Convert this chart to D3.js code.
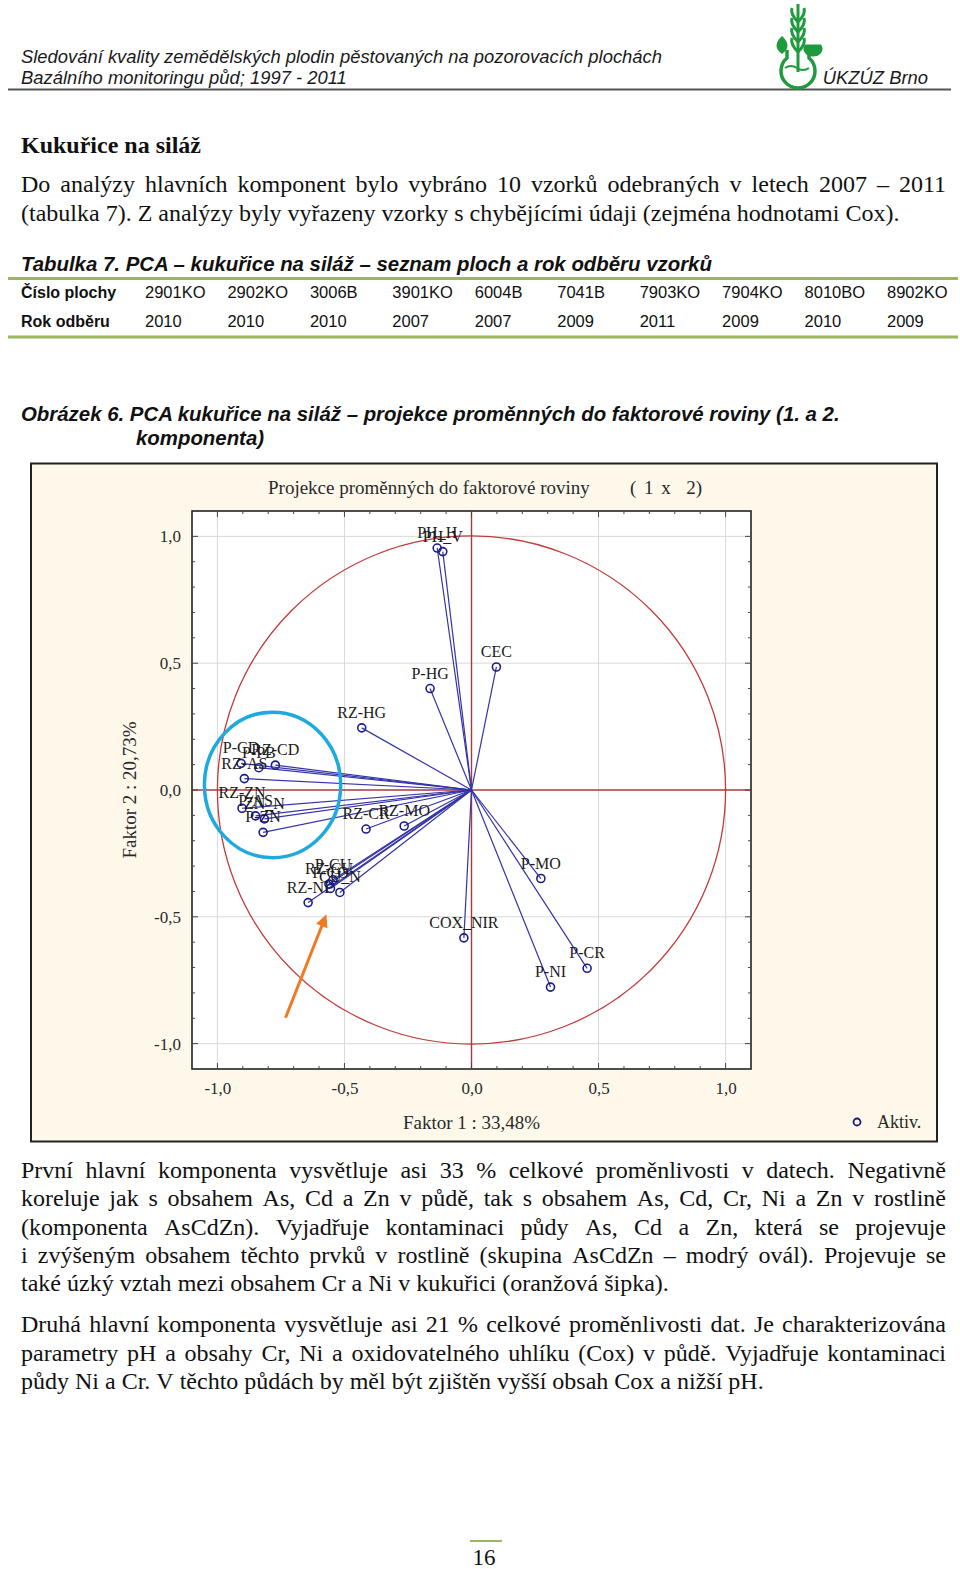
<!DOCTYPE html>
<html>
<head>
<meta charset="utf-8">
<script src="https://cdn.jsdelivr.net/npm/d3@7"></script>
<style>
  body { margin: 0; background: #fff; }
  svg { display: block; }
</style>
</head>
<body>
<div id="page"></div>
<script>
// ---- table data ----
const plochy = ["2901KO", "2902KO", "3006B", "3901KO", "6004B", "7041B", "7903KO", "7904KO", "8010BO", "8902KO"];
const rokOdberu = ["2010", "2010", "2010", "2007", "2007", "2009", "2011", "2009", "2010", "2009"];

// ---- PCA loadings (factor 1 x factor 2) ----
const varNames = ["PH_H", "PH_V", "CEC", "P-HG", "RZ-HG",
  "P-CD", "P-PB", "RZ-CD", "RZ-AS", "RZ-ZN", "P-AS", "ZN_N", "P-ZN",
  "RZ-CR", "RZ-MO", "P-CU", "RZ-CU", "P-CO", "CU_N", "RZ-NI",
  "P-MO", "COX_NIR", "P-CR", "P-NI"];
const factor1 = [-0.135, -0.113, 0.098, -0.163, -0.432,
  -0.907, -0.837, -0.772, -0.894, -0.903, -0.850, -0.815, -0.820,
  -0.415, -0.265, -0.545, -0.561, -0.555, -0.518, -0.643,
  0.273, -0.030, 0.455, 0.311];
const factor2 = [0.954, 0.940, 0.485, 0.400, 0.245,
  0.105, 0.088, 0.098, 0.045, -0.072, -0.102, -0.114, -0.167,
  -0.154, -0.142, -0.354, -0.371, -0.388, -0.404, -0.444,
  -0.349, -0.583, -0.703, -0.777];

const tickValues = [-1, -0.5, 0, 0.5, 1];
const minorTicks = d3.range(-10, 11).map(d => d / 10);

// annotations in factor units
const ovalCenter = [-0.783, 0.02], ovalRadius = [0.268, 0.287];
const arrowFrom = [-0.732, -0.898], arrowTo = [-0.571, -0.49];

const serif = "'Liberation Serif', 'Times New Roman', serif";
const sans = "'Liberation Sans', Arial, sans-serif";

const svg = d3.select("#page").append("svg")
  .attr("width", 960).attr("height", 1569);

// justify words of one line between x0 and x1
function line(text, x0, x1, y, last) {
  const g = svg.append("g").attr("font-family", serif).attr("font-size", 24).attr("fill", "#111");
  const words = text.split(" ");
  const nodes = words.map(w => g.append("text").attr("y", y).text(w));
  const widths = nodes.map(n => n.node().getComputedTextLength());
  const total = d3.sum(widths);
  const gap = last ? 6 : (x1 - x0 - total) / (words.length - 1);
  let x = x0;
  nodes.forEach((n, i) => { n.attr("x", x); x += widths[i] + gap; });
}

// ---- header ----
const head = svg.append("g").attr("font-family", sans).attr("font-style", "italic")
  .attr("font-size", 18.4).attr("fill", "#1a1a1a");
head.append("text").attr("x", 21).attr("y", 63)
  .text("Sledování kvality zemědělských plodin pěstovaných na pozorovacích plochách");
head.append("text").attr("x", 21).attr("y", 84).text("Bazálního monitoringu půd; 1997 - 2011");
head.append("text").attr("x", 928).attr("y", 84).attr("text-anchor", "end").text("ÚKZÚZ Brno");
svg.append("line").attr("x1", 8).attr("x2", 951).attr("y1", 89.5).attr("y2", 89.5)
  .attr("stroke", "#555").attr("stroke-width", 2);

// logo (rough)
const logo = svg.append("g").attr("fill", "none").attr("stroke", "#1f9a3c").attr("stroke-width", 3);
logo.append("path").attr("d", "M798,4 L798,72");
[14, 24, 34, 44].forEach(t => {
  logo.append("path").attr("d", `M798,${t + 8} Q790,${t} 792,${t - 6}`);
  logo.append("path").attr("d", `M798,${t + 8} Q806,${t} 804,${t - 6}`);
});
logo.append("path").attr("d", "M787,50 L787,58 A17,17 0 1,0 809,58 L809,50").attr("stroke-width", 3.5);
logo.append("path").attr("d", "M782,38 q-8,8 0,14 q8,-6 0,-14z").attr("fill", "#1f9a3c");
logo.append("path").attr("d", "M806,46 a8,6 0 1,0 14,0 z").attr("fill", "#1f9a3c");
logo.append("path").attr("d", "M785,68 q6,-4 12,0 q6,4 12,0").attr("stroke-width", 2);

// ---- section heading and intro ----
svg.append("text").attr("x", 21).attr("y", 153).attr("font-family", serif)
  .attr("font-weight", "bold").attr("font-size", 24).attr("fill", "#111").text("Kukuřice na siláž");
line("Do analýzy hlavních komponent bylo vybráno 10 vzorků odebraných v letech 2007 – 2011", 21, 946, 192, false);
line("(tabulka 7). Z analýzy byly vyřazeny vzorky s chybějícími údaji (zejména hodnotami Cox).", 21, 946, 221, true);

// ---- table ----
svg.append("text").attr("x", 21).attr("y", 271).attr("font-family", sans).attr("font-weight", "bold")
  .attr("font-style", "italic").attr("font-size", 20.4).attr("fill", "#111")
  .text("Tabulka 7. PCA – kukuřice na siláž – seznam ploch a rok odběru vzorků");
[278.5, 337].forEach(y => svg.append("line").attr("x1", 8).attr("x2", 958).attr("y1", y).attr("y2", y)
  .attr("stroke", "#9bb661").attr("stroke-width", 3));
const colX = d3.scalePoint().domain(plochy.map((d, i) => i)).range([145, 887]);
const tbl = svg.append("g").attr("font-family", sans).attr("font-size", 16.5).attr("fill", "#111");
tbl.append("text").attr("x", 21).attr("y", 298).attr("font-weight", "bold").attr("font-size", 16).text("Číslo plochy");
tbl.append("text").attr("x", 21).attr("y", 327).attr("font-weight", "bold").attr("font-size", 16).text("Rok odběru");
tbl.selectAll(".p").data(plochy).join("text").attr("x", (d, i) => colX(i)).attr("y", 298).text(d => d);
tbl.selectAll(".r").data(rokOdberu).join("text").attr("x", (d, i) => colX(i)).attr("y", 327).text(d => d);

// ---- figure caption ----
const cap = svg.append("g").attr("font-family", sans).attr("font-weight", "bold")
  .attr("font-style", "italic").attr("font-size", 20.4).attr("fill", "#111");
cap.append("text").attr("x", 21).attr("y", 421)
  .text("Obrázek 6. PCA kukuřice na siláž – projekce proměnných do faktorové roviny (1. a 2.");
cap.append("text").attr("x", 136).attr("y", 445).text("komponenta)");

// ---- chart ----
svg.append("rect").attr("x", 31).attr("y", 463.5).attr("width", 906).attr("height", 678)
  .attr("fill", "#fdf8ea").attr("stroke", "#222").attr("stroke-width", 2);

const x = d3.scaleLinear().domain([-1.1, 1.1]).range([192, 751]);
const y = d3.scaleLinear().domain([-1.1, 1.1]).range([1069, 511]);
const fmt = d => d3.format(".1f")(d).replace(".", ",").replace("−", "-");

const chart = svg.append("g");
chart.append("rect").attr("x", x(-1.1)).attr("y", y(1.1))
  .attr("width", x(1.1) - x(-1.1)).attr("height", y(-1.1) - y(1.1)).attr("fill", "#fff");

// grid
const grid = tickValues.filter(d => d !== 0);
chart.selectAll(".gx").data(grid).join("line")
  .attr("x1", d => x(d)).attr("x2", d => x(d)).attr("y1", y(1.1)).attr("y2", y(-1.1))
  .attr("stroke", "#d9d9d9");
chart.selectAll(".gy").data(grid).join("line")
  .attr("y1", d => y(d)).attr("y2", d => y(d)).attr("x1", x(-1.1)).attr("x2", x(1.1))
  .attr("stroke", "#d9d9d9");

// unit circle and crosshair
chart.append("circle").attr("cx", x(0)).attr("cy", y(0)).attr("r", x(1) - x(0))
  .attr("fill", "none").attr("stroke", "#c03c3c").attr("stroke-width", 1.3);
chart.append("line").attr("x1", x(0)).attr("x2", x(0)).attr("y1", y(1.1)).attr("y2", y(-1.1))
  .attr("stroke", "#a83a3a").attr("stroke-width", 1.4);
chart.append("line").attr("y1", y(0)).attr("y2", y(0)).attr("x1", x(-1.1)).attr("x2", x(1.1))
  .attr("stroke", "#a83a3a").attr("stroke-width", 1.4);

// loading vectors
const pts = varNames.map((n, i) => ({ name: n, f1: factor1[i], f2: factor2[i] }));
chart.selectAll(".vec").data(pts).join("line")
  .attr("x1", x(0)).attr("y1", y(0)).attr("x2", d => x(d.f1)).attr("y2", d => y(d.f2))
  .attr("stroke", "#3434a8").attr("stroke-width", 1.2);
chart.selectAll(".pt").data(pts).join("circle")
  .attr("cx", d => x(d.f1)).attr("cy", d => y(d.f2)).attr("r", 4)
  .attr("fill", "none").attr("stroke", "#1c1c8c").attr("stroke-width", 1.6);
chart.selectAll(".lbl").data(pts).join("text")
  .attr("x", d => x(d.f1)).attr("y", d => y(d.f2) - 10).attr("text-anchor", "middle")
  .attr("font-family", serif).attr("font-size", 16).attr("fill", "#1a1a1a").text(d => d.name);

// frame and ticks
chart.append("rect").attr("x", x(-1.1)).attr("y", y(1.1))
  .attr("width", x(1.1) - x(-1.1)).attr("height", y(-1.1) - y(1.1))
  .attr("fill", "none").attr("stroke", "#222").attr("stroke-width", 1.6);
const tk = chart.append("g").attr("stroke", "#444").attr("stroke-width", 1);
minorTicks.forEach(d => {
  const len = Math.abs(d * 2 - Math.round(d * 2)) < 1e-9 ? 6 : 3;
  tk.append("line").attr("x1", x(d)).attr("x2", x(d)).attr("y1", y(-1.1)).attr("y2", y(-1.1) - len);
  tk.append("line").attr("x1", x(d)).attr("x2", x(d)).attr("y1", y(1.1)).attr("y2", y(1.1) + len);
  tk.append("line").attr("y1", y(d)).attr("y2", y(d)).attr("x1", x(-1.1)).attr("x2", x(-1.1) + len);
  tk.append("line").attr("y1", y(d)).attr("y2", y(d)).attr("x1", x(1.1)).attr("x2", x(1.1) - len);
});

const ax = chart.append("g").attr("transform", `translate(0,${y(-1.1)})`)
  .call(d3.axisBottom(x).tickValues(tickValues).tickSize(0).tickPadding(13).tickFormat(fmt));
const ay = chart.append("g").attr("transform", `translate(${x(-1.1)},0)`)
  .call(d3.axisLeft(y).tickValues(tickValues).tickSize(0).tickPadding(11).tickFormat(fmt));
[ax, ay].forEach(a => {
  a.select(".domain").remove();
  a.selectAll("text").attr("font-family", serif).attr("font-size", 17).attr("fill", "#2a2a2a");
});

// titles
const tt = chart.append("g").attr("font-family", serif).attr("font-size", 19).attr("fill", "#2a2a2a");
tt.append("text").attr("x", 268).attr("y", 494).text("Projekce proměnných do faktorové roviny");
tt.append("text").attr("x", 630).attr("y", 494).attr("xml:space", "preserve").attr("word-spacing", 3).text("( 1 x  2)");
tt.append("text").attr("x", x(0)).attr("y", 1129).attr("text-anchor", "middle").attr("font-size", 19)
  .text("Faktor 1 : 33,48%");
tt.append("text").attr("transform", `translate(136,${y(0)}) rotate(-90)`).attr("text-anchor", "middle")
  .attr("font-size", 19).text("Faktor 2 : 20,73%");
chart.append("circle").attr("cx", 857).attr("cy", 1122).attr("r", 3.5)
  .attr("fill", "none").attr("stroke", "#1c1c6c").attr("stroke-width", 1.8);
tt.append("text").attr("x", 877).attr("y", 1128).attr("font-size", 18).text("Aktiv.");

// annotations: blue oval + orange arrow
chart.append("ellipse").attr("cx", x(ovalCenter[0])).attr("cy", y(ovalCenter[1]))
  .attr("rx", x(ovalRadius[0]) - x(0)).attr("ry", y(0) - y(ovalRadius[1]))
  .attr("fill", "none").attr("stroke", "#1eaadf").attr("stroke-width", 3.5);
const ax0 = x(arrowFrom[0]), ay0 = y(arrowFrom[1]), ax1 = x(arrowTo[0]), ay1 = y(arrowTo[1]);
const ang = Math.atan2(ay1 - ay0, ax1 - ax0);
chart.append("line").attr("x1", ax0).attr("y1", ay0)
  .attr("x2", ax1 - 8 * Math.cos(ang)).attr("y2", ay1 - 8 * Math.sin(ang))
  .attr("stroke", "#f07a22").attr("stroke-width", 3);
const head2 = [[ax1, ay1],
  [ax1 - 14 * Math.cos(ang - 0.45), ay1 - 14 * Math.sin(ang - 0.45)],
  [ax1 - 14 * Math.cos(ang + 0.45), ay1 - 14 * Math.sin(ang + 0.45)]];
chart.append("path").attr("d", d3.line()(head2) + "Z").attr("fill", "#f07a22");

// ---- discussion text ----
const L = 21, R = 946;
line("První hlavní komponenta vysvětluje asi 33 % celkové proměnlivosti v datech. Negativně", L, R, 1178, false);
line("koreluje jak s obsahem As, Cd a Zn v půdě, tak s obsahem As, Cd, Cr, Ni a Zn v rostlině", L, R, 1206, false);
line("(komponenta AsCdZn). Vyjadřuje kontaminaci půdy As, Cd a Zn, která se projevuje", L, R, 1235, false);
line("i zvýšeným obsahem těchto prvků v rostlině (skupina AsCdZn – modrý ovál). Projevuje se", L, R, 1263, false);
line("také úzký vztah mezi obsahem Cr a Ni v kukuřici (oranžová šipka).", L, R, 1291, true);
line("Druhá hlavní komponenta vysvětluje asi 21 % celkové proměnlivosti dat. Je charakterizována", L, R, 1332, false);
line("parametry pH a obsahy Cr, Ni a oxidovatelného uhlíku (Cox) v půdě. Vyjadřuje kontaminaci", L, R, 1361, false);
line("půdy Ni a Cr. V těchto půdách by měl být zjištěn vyšší obsah Cox a nižší pH.", L, R, 1389, true);

// page number
svg.append("line").attr("x1", 470).attr("x2", 502).attr("y1", 1541).attr("y2", 1541)
  .attr("stroke", "#9bb661").attr("stroke-width", 2);
svg.append("text").attr("x", 484).attr("y", 1565).attr("text-anchor", "middle")
  .attr("font-family", serif).attr("font-size", 23).attr("fill", "#111").text("16");
</script>
</body>
</html>
